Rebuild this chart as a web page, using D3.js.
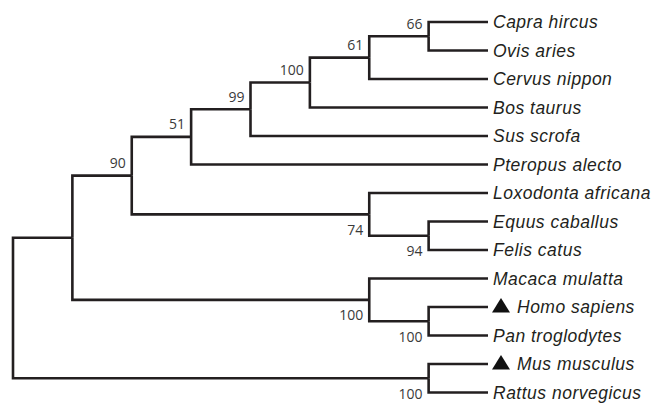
<!DOCTYPE html>
<html>
<head>
<meta charset="utf-8">
<script src="https://cdn.jsdelivr.net/npm/d3@7"></script>
<style>
  html, body { margin: 0; padding: 0; background: #fff; }
  svg { display: block; }
</style>
</head>
<body>
<div id="chart"></div>
<script>
// tree nodes: id, parent, bootstrap support (null = none shown)
const nodeIds = [
  "root", "A", "n90", "n51", "n99", "n100", "n61", "n66",
  "Capra hircus", "Ovis aries", "Cervus nippon", "Bos taurus", "Sus scrofa", "Pteropus alecto",
  "n74", "Loxodonta africana", "n94", "Equus caballus", "Felis catus",
  "nPrim", "Macaca mulatta", "nHP", "Homo sapiens", "Pan troglodytes",
  "nMR", "Mus musculus", "Rattus norvegicus"
];
const nodeParents = [
  "", "root", "A", "n90", "n51", "n99", "n100", "n61",
  "n66", "n66", "n61", "n100", "n99", "n51",
  "n90", "n74", "n74", "n94", "n94",
  "A", "nPrim", "nPrim", "nHP", "nHP",
  "root", "nMR", "nMR"
];
const nodeSupport = [
  null, null, 90, 51, 99, 100, 61, 66,
  null, null, null, null, null, null,
  74, null, 94, null, null,
  100, null, 100, null, null,
  100, null, null
];
// leaves marked with a filled triangle
const markedLeaves = ["Homo sapiens", "Mus musculus"];

const width = 655, height = 403;
const xLeft = 13, xRight = 488, yTop = 22, yBottom = 392.5;

const svg = d3.select("#chart").append("svg")
  .attr("width", width)
  .attr("height", height);

const table = nodeIds.map((id, i) => ({ id: id, parent: nodeParents[i], support: nodeSupport[i] }));
const root = d3.stratify().id(d => d.id).parentId(d => d.parent || null)(table);

const leaves = root.leaves();
const x = d3.scaleLinear().domain([root.height, 0]).range([xLeft, xRight]);
const y = d3.scaleLinear().domain([0, leaves.length - 1]).range([yTop, yBottom]);

leaves.forEach((d, i) => { d.py = y(i); });
root.eachAfter(d => {
  d.px = x(d.height);
  if (d.children) d.py = (d.children[0].py + d.children[d.children.length - 1].py) / 2;
});

// branches (elbow links)
svg.append("g")
  .selectAll("path")
  .data(root.links())
  .join("path")
  .attr("d", l => `M${l.source.px},${l.source.py}V${l.target.py}H${l.target.px}`)
  .attr("fill", "none")
  .attr("stroke", "#231f20")
  .attr("stroke-width", 2.6)
  .attr("stroke-linejoin", "miter")
  .attr("stroke-linecap", "butt");

// bootstrap values: above the branch for a first child, below otherwise
svg.append("g")
  .selectAll("text")
  .data(root.descendants().filter(d => d.data.support != null))
  .join("text")
  .attr("x", d => d.px - 6)
  .attr("y", d => d.parent.children[0] === d ? d.py - 7.5 : d.py + 20.5)
  .attr("text-anchor", "end")
  .attr("font-family", "'Open Sans', 'Noto Sans', sans-serif")
  .attr("font-size", 14)
  .attr("fill", "#3a3a3a")
  .text(d => d.data.support);

// leaf labels
const leafG = svg.append("g")
  .selectAll("g")
  .data(leaves)
  .join("g")
  .attr("transform", d => `translate(${d.px},${d.py})`);

leafG.filter(d => markedLeaves.includes(d.id))
  .append("path")
  .attr("d", "M4,5.5L13,-9L22,5.5Z")
  .attr("fill", "#111");

leafG.append("text")
  .attr("x", d => markedLeaves.includes(d.id) ? 29 : 5)
  .attr("dy", "0.35em")
  .attr("font-family", "'Liberation Sans', Arial, sans-serif")
  .attr("font-style", "italic")
  .attr("font-size", 17.5)
  .attr("letter-spacing", 0.5)
  .attr("fill", "#231f20")
  .text(d => d.id);
</script>
</body>
</html>
